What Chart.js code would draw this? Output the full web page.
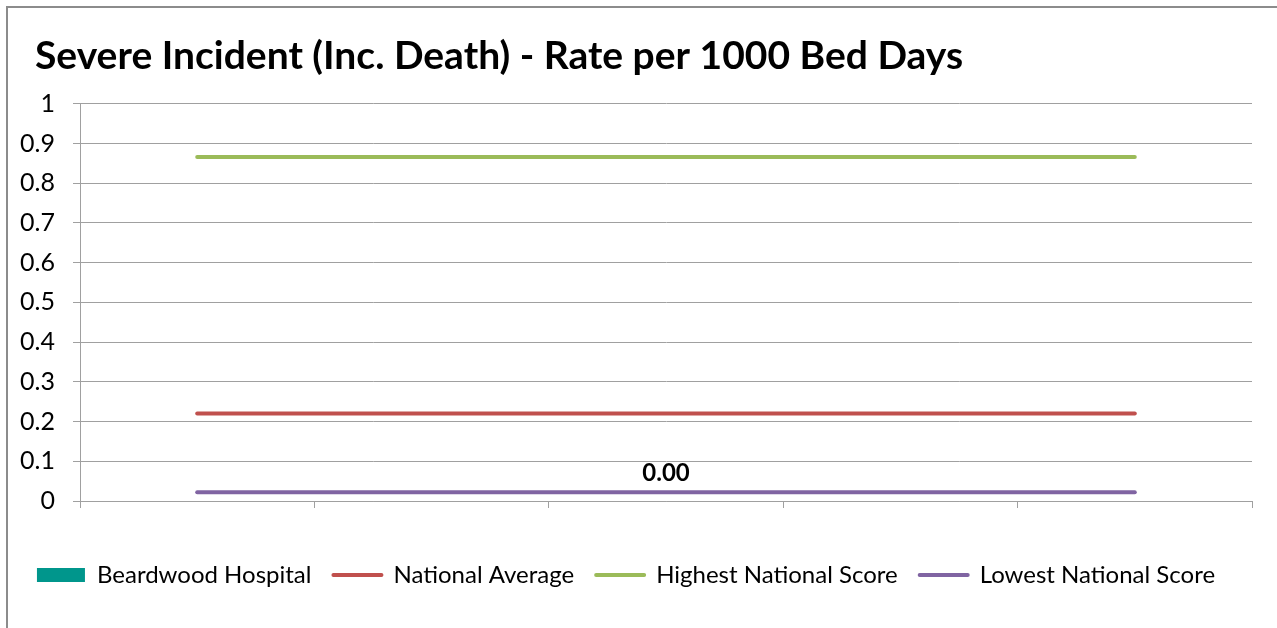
<!DOCTYPE html>
<html>
<head>
<meta charset="utf-8">
<script src="https://cdn.jsdelivr.net/npm/chart.js@4"></script>
<style>
  html, body { margin: 0; padding: 0; background: #fff; overflow: hidden; }
  #wrap { position: relative; width: 1277px; height: 628px; }
  #frame { position: absolute; left: 6px; top: 6px; width: 1290px; height: 700px;
           border-left: 2px solid #8c8c8c; border-top: 2px solid #8c8c8c; pointer-events: none; }
</style>
</head>
<body>
<div id="wrap">
  <canvas id="c" width="1277" height="628"></canvas>
  <div id="frame"></div>
</div>
<script>
const chartTitle = "Severe Incident (Inc. Death) - Rate per 1000 Bed Days"
const categories = ["", "", "", "", ""]
const hospitalValues = [null, null, 0, null, null]
const nationalAverage = [0.22, 0.22, 0.22, 0.22, 0.22]
const highestScore = [0.866, 0.866, 0.866, 0.866, 0.866]
const lowestScore = [0.022, 0.022, 0.022, 0.022, 0.022]
const yMin = 0
const yMax = 1
const yStep = 0.1

const FONT = "Lato, 'Open Sans', sans-serif"

// value label over the hospital bar, e.g. "0.00"
const barLabels = {
  id: "barLabels",
  afterDatasetsDraw(chart) {
    const meta = chart.getDatasetMeta(0)
    const ctx = chart.ctx
    ctx.save()
    ctx.font = "bold 24px " + FONT
    ctx.fillStyle = "#000"
    ctx.textAlign = "center"
    ctx.textBaseline = "middle"
    meta.data.forEach((el, i) => {
      const v = hospitalValues[i]
      if (v === null) return
      ctx.fillText(v.toFixed(2), el.x, el.y - 28)
    })
    ctx.restore()
  },
}

// title sits a bit in from the canvas edge, the y axis doesn't
const titleIndent = {
  id: "titleIndent",
  afterLayout(chart) {
    if (chart.titleBlock) chart.titleBlock.left = 35
  },
}

new Chart(document.getElementById("c"), {
  type: "bar",
  data: {
    labels: categories,
    datasets: [
      {
        label: "Beardwood Hospital",
        data: hospitalValues,
        backgroundColor: "#00968C",
        order: 5,
      },
      {
        type: "line",
        label: "National Average",
        data: nationalAverage,
        borderColor: "#C0504D",
        backgroundColor: "#C0504D",
        borderWidth: 4,
        borderCapStyle: "round",
        pointRadius: 0,
      },
      {
        type: "line",
        label: "Highest National Score",
        data: highestScore,
        borderColor: "#9BBB59",
        backgroundColor: "#9BBB59",
        borderWidth: 4,
        borderCapStyle: "round",
        pointRadius: 0,
      },
      {
        type: "line",
        label: "Lowest National Score",
        data: lowestScore,
        borderColor: "#8064A2",
        backgroundColor: "#8064A2",
        borderWidth: 4,
        borderCapStyle: "round",
        pointRadius: 0,
      },
    ],
  },
  options: {
    responsive: false,
    animation: false,
    layout: { padding: { left: 0, right: 25, top: 0, bottom: 31 } },
    plugins: {
      title: {
        display: true,
        text: chartTitle,
        align: "start",
        color: "#000",
        font: { family: FONT, size: 39, weight: "bold" },
        padding: { top: 33, bottom: 24 },
      },
      legend: {
        position: "bottom",
        labels: {
          color: "#000",
          font: { family: FONT, size: 24 },
          usePointStyle: true,
          pointStyleWidth: 48,
          boxHeight: 14,
          padding: 22,
          generateLabels(chart) {
            return chart.data.datasets.map((ds, i) => ({
              text: ds.label,
              datasetIndex: i,
              fillStyle: ds.type === "line" ? ds.borderColor : ds.backgroundColor,
              strokeStyle: ds.type === "line" ? ds.borderColor : ds.backgroundColor,
              lineWidth: ds.type === "line" ? 4 : 0,
              lineCap: "round",
              pointStyle: ds.type === "line" ? "line" : "rect",
              fontColor: "#000",
              hidden: false,
            }))
          },
        },
      },
      tooltip: { enabled: false },
    },
    scales: {
      x: {
        grid: {
          offset: true,
          drawOnChartArea: false,
          drawTicks: true,
          tickLength: 7,
          color: "#a0a0a0",
        },
        border: { color: "#a0a0a0" },
        ticks: { display: false },
        afterFit(scale) { scale.height = 40 },
      },
      y: {
        min: yMin,
        max: yMax,
        ticks: {
          stepSize: yStep,
          color: "#000",
          font: { family: FONT, size: 25 },
          padding: 18,
          callback: (v) => String(Number(v.toFixed(1))),
        },
        grid: { color: "#a0a0a0", tickLength: 7 },
        border: { color: "#a0a0a0" },
        afterFit(scale) { scale.width = 80 },
      },
    },
  },
  plugins: [barLabels, titleIndent],
})
</script>
</body>
</html>
